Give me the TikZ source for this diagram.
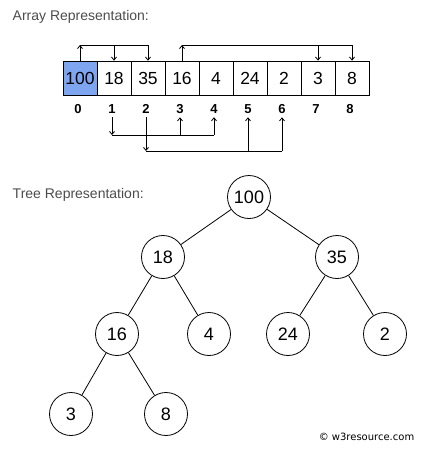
\documentclass[tikz,border=0pt]{standalone}
\usepackage{fontspec}
\setmainfont{Liberation Sans}
\newfontfamily\smallfont{DejaVu Sans}
\usetikzlibrary{arrows.meta}
\definecolor{hdgray}{rgb}{0.3,0.3,0.3}
\definecolor{rootblue}{RGB}{126,166,240}
\begin{document}
\begin{tikzpicture}[x=1pt,y=-1pt,thick,>={Straight Barb[length=3pt,width=5pt]},
    cell/.style={draw,minimum width=34pt,minimum height=34pt,inner sep=0pt,font=\fontsize{17.5}{17.5}\selectfont},
    idx/.style={font=\fontsize{13}{13}\selectfont\bfseries},
    knot/.style={draw,circle,minimum size=43pt,inner sep=0pt,font=\fontsize{18}{18}\selectfont},
    title/.style={anchor=west,text=hdgray,font=\fontsize{14}{14}\selectfont}]
    \useasboundingbox (0,0) rectangle (426,453);
    \node[title] (tarr) at (9,17) {Array Representation:};
    \node[title] (ttree) at (9,195) {Tree Representation:};
	% array cells and indices
	\foreach \v [count=\i from 0] in {100,18,35,16,4,24,2,3,8} {
		\node[cell] (c\i) at ({80+34*\i},78) {\v};
		\node[idx] (i\i) at ({78+34*\i},109) {\i};
	}
	\fill[rootblue] ([shift={(0.5,-0.5)}]c0.south west) rectangle ([shift={(-0.5,0.5)}]c0.north east);
	\node[cell] at (c0) {100};
	\coordinate (top) at (0,45);
	\coordinate (lowa) at (0,135);
	\coordinate (lowb) at (0,151);
	% top links
	\draw[->] (c0.north) -- (c0.north |- top);
	\draw (c0.north |- top) -- (c2.north |- top);
	\draw[->] (c1.north |- top) -- (c1.north);
	\draw[->] (c2.north |- top) -- (c2.north);
	\draw[->] (c3.north) -- (c3.north |- top);
	\draw (c3.north |- top) -- (c8.north |- top);
	\draw[->] (c7.north |- top) -- (c7.north);
	\draw[->] (c8.north |- top) -- (c8.north);
	% bottom links
	\draw[->] (i1.south) -- (i1.south |- lowa);
	\draw (i1.south |- lowa) -- (i4.south |- lowa);
	\draw[->] (i3.south |- lowa) -- (i3.south);
	\draw[->] (i4.south |- lowa) -- (i4.south);
	\draw[->] (i2.south) -- (i2.south |- lowb);
	\draw (i2.south |- lowb) -- (i6.south |- lowb);
	\draw[->] (i5.south |- lowb) -- (i5.south);
	\draw[->] (i6.south |- lowb) -- (i6.south);
	% tree
	\foreach \n/\x/\y in {100/249/197,18/163/257,35/337/257,16/117/334,4/209/334,24/288/334,2/385/334,3/71/414,8/166/414}
		\node[knot] (n\n) at (\x,\y) {\n};
	\foreach \a/\b in {100/18,100/35,18/16,18/4,35/24,35/2,16/3,16/8}
		\draw (n\a) -- (n\b);
	\node[anchor=east,font=\smallfont\fontsize{10}{10}\selectfont] (copy) at (418,437) {© w3resource.com};
\end{tikzpicture}
\end{document}
